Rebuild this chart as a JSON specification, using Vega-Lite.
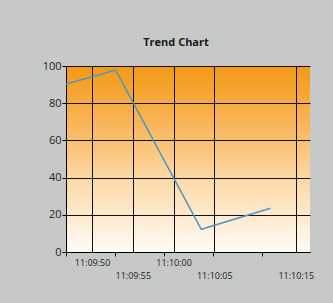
{
  "$schema": "https://vega.github.io/schema/vega-lite/v6.json",
  "autosize": {"type": "none"},
  "width": 244,
  "height": 186,
  "padding": {"left": 66, "top": 66, "right": 23, "bottom": 51},
  "background": "#c7c8c8",
  "title": {
    "text": "Trend Chart",
    "font": "Open Sans",
    "fontSize": 11,
    "fontWeight": "bold",
    "color": "#1a1a1a",
    "offset": 12,
    "dx": -12,
    "anchor": "middle"
  },
  "config": {
    "view": {
      "stroke": null,
      "fill": {
        "gradient": "linear",
        "x1": 0, "y1": 0, "x2": 0, "y2": 1,
        "stops": [
          {"offset": 0, "color": "#f39914"},
          {"offset": 0.3, "color": "#f8b456"},
          {"offset": 0.6, "color": "#fcd8a4"},
          {"offset": 1, "color": "#fffbf6"}
        ]
      }
    },
    "axis": {
      "labelFont": "Open Sans",
      "labelColor": "#222222",
      "domainColor": "#000000",
      "tickColor": "#000000",
      "gridColor": "#111111",
      "gridOpacity": 1,
      "title": null
    }
  },
  "data": {
    "values": [
      {"time": "2024-01-01T11:09:46.800Z", "value": 90.3},
      {"time": "2024-01-01T11:09:52.900Z", "value": 97.8},
      {"time": "2024-01-01T11:10:03.400Z", "value": 12.2},
      {"time": "2024-01-01T11:10:11.900Z", "value": 23.5}
    ]
  },
  "mark": {"type": "line", "color": "#4a97c8", "strokeWidth": 1.5},
  "encoding": {
    "x": {
      "field": "time",
      "type": "temporal",
      "scale": {"type": "utc", "domain": [1704107386800, 1704107416750], "nice": false},
      "axis": {
        "values": [1704107386800, 1704107390000, 1704107392800, 1704107395000, 1704107398800, 1704107400000, 1704107404800, 1704107405000, 1704107410000, 1704107410800, 1704107415000],
        "labelExpr": "(datum.value - 1704107390000) % 5000 != 0 ? '' : (((datum.value - 1704107390000) / 5000) % 2 == 0 ? utcFormat(datum.value, '%H:%M:%S') : ['', utcFormat(datum.value, '%H:%M:%S')])",
        "labelFontSize": 9,
        "labelLineHeight": 13,
        "labelPadding": 2,
        "labelOverlap": false,
        "labelFlush": false,
        "labelBound": false,
        "tickSize": 4,
        "tickOpacity": {"condition": {"test": "(datum.value - 1704107390000) % 5000 != 0", "value": 1}, "value": 0},
        "gridOpacity": {"condition": {"test": "(datum.value - 1704107390000) % 5000 == 0", "value": 1}, "value": 0}
      }
    },
    "y": {
      "field": "value",
      "type": "quantitative",
      "scale": {"domain": [0, 100], "nice": false},
      "axis": {
        "values": [0, 20, 40, 60, 80, 100],
        "labelFontSize": 11,
        "labelPadding": 1,
        "tickSize": 4
      }
    }
  }
}
